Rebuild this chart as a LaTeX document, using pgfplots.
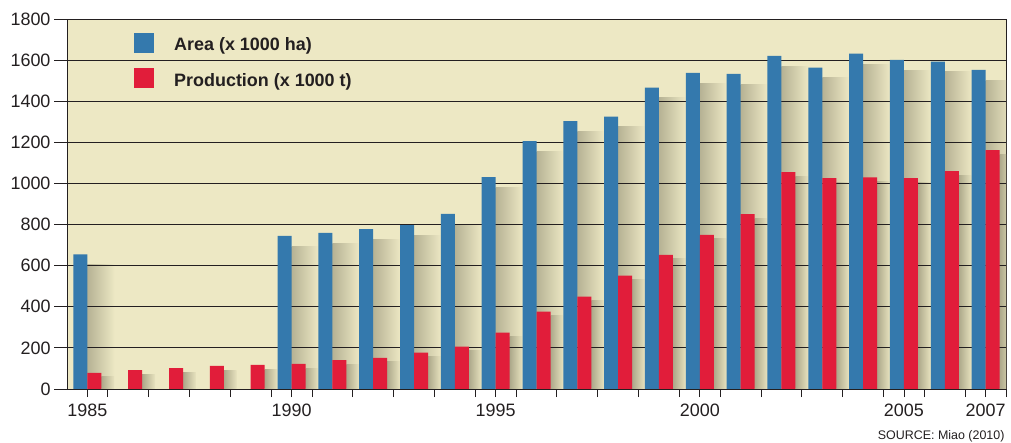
\documentclass[border=0pt]{standalone}
\usepackage{pgfplots}
\pgfplotsset{compat=1.18}
\usepackage{pgfplotstable}
\usepackage{fontspec}
\setmainfont{Liberation Sans}
\definecolor{bg}{RGB}{237,232,196}
\definecolor{areablue}{RGB}{52,121,173}
\definecolor{prodred}{RGB}{225,29,58}
\definecolor{shAa}{RGB}{182,178,148}
\definecolor{shAb}{RGB}{236,231,195}
\definecolor{shPa}{RGB}{172,168,138}
\definecolor{shPb}{RGB}{232,227,191}
\definecolor{gridc}{RGB}{35,31,32}

\pgfplotstableread{
year area prod ashadow pshadow
1985 655 78 605 60
1986 nan 92 nan 72
1987 nan 102 nan 82
1988 nan 112 nan 92
1989 nan 117 nan 97
1990 745 122 695 102
1991 760 141 710 121
1992 778 152 728 132
1993 797 177 747 157
1994 852 206 802 186
1995 1031 274 981 254
1996 1206 376 1156 356
1997 1303 449 1253 429
1998 1325 551 1275 531
1999 1466 653 1416 633
2000 1538 750 1488 730
2001 1533 851 1483 831
2002 1621 1055 1571 1035
2003 1563 1026 1513 1006
2004 1631 1030 1581 1010
2005 1601 1026 1551 1006
2006 1593 1060 1543 1040
2007 1553 1162 1503 1142
}\data

\begin{document}
\begin{tikzpicture}
\begin{axis}[
  scale only axis, width=939bp, height=370bp,
  xmin=1984.5, xmax=2007.5, ymin=0, ymax=1800,
  axis background/.style={fill=bg},
  axis line style={gridc, line width=0.8bp},
  tick pos=left,
  ytick={0,200,...,1800},
  xtick={1985.5,1986.5,...,2007.5},
  xticklabels={},
  extra x ticks={1985,1990,1995,2000,2005,2007},
  extra x tick labels={1985,1990,1995,2000,2005,2007},
  extra x tick style={major tick length=0pt, tick label style={yshift=-11bp}},
  tick align=outside,
  major tick length=13bp,
  xtick style={/pgfplots/major tick length=8bp},
  tick style={gridc, line width=0.8bp},
  /pgf/number format/assume math mode=true,
  /pgf/number format/1000 sep={},
  tick label style={font=\fontsize{18}{20}\selectfont, text=gridc},
  legend style={at={(0.0714,0.9635)}, anchor=north west, draw=none, fill=none,
    inner sep=0pt, column sep=20bp, row sep=15.5bp,
    font=\bfseries\fontsize{18}{20}\selectfont, text=gridc, nodes={inner sep=0pt}},
  legend cell align=left,
]
% soft drop shadows to the right of each bar
\pgfplotsinvokeforeach{1985,...,2007}{
  \addplot[ybar, bar width=0.657, bar shift=0.3285, draw=none, left color=shAa, right color=shAb,
    forget plot, x filter/.expression={x==#1 ? x : nan}] table[x=year,y=ashadow]{\data};
  \addplot[ybar, bar width=0.314, bar shift=0.5, draw=none, left color=shPa, right color=shPb,
    forget plot, x filter/.expression={x==#1 ? x : nan}] table[x=year,y=pshadow]{\data};
}
% horizontal grid lines (drawn over the shadows, under the bars)
\pgfplotsinvokeforeach{200,400,...,1600}{
  \addplot[gridc, line width=1.1bp, forget plot] coordinates {(1984.5,#1) (2007.5,#1)};
}
\addplot[ybar, bar width=0.343, bar shift=-0.1715, draw=none, fill=areablue,
  legend image code/.code={\fill[areablue] (0bp,-7.7bp) rectangle (20bp,12.3bp);}] table[x=year,y=area]{\data};
\addlegendentry{Area (x 1000 ha)}
\addplot[ybar, bar width=0.343, bar shift=0.1715, draw=none, fill=prodred,
  legend image code/.code={\fill[prodred] (0bp,-7.7bp) rectangle (20bp,12.3bp);}] table[x=year,y=prod]{\data};
\addlegendentry{Production (x 1000 t)}
\end{axis}
\node[anchor=base east, font=\fontsize{12.5}{14}\selectfont, text=gridc] at (941bp,-50bp) {SOURCE: Miao (2010)};
\pgfresetboundingbox
\path[use as bounding box] (-67bp,-54bp) rectangle (944bp,389bp);
\end{tikzpicture}
\end{document}
